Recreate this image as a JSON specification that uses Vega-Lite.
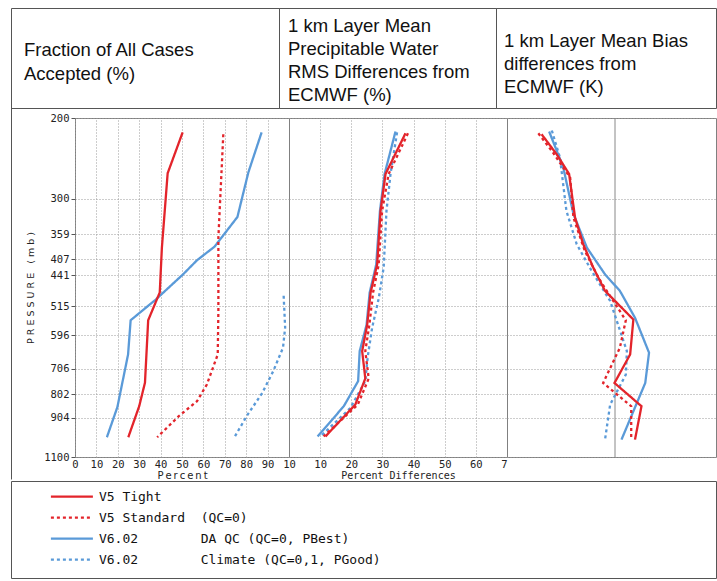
{
  "$schema": "https://vega.github.io/schema/vega-lite/v6.json",
  "padding": {"left": 10, "top": 7, "right": 0, "bottom": 6},
  "background": "white",
  "spacing": -5,
  "config": {
    "view": {"stroke": "#808080", "strokeWidth": 1},
    "axis": {
      "labelFont": "DejaVu Sans Mono", "labelFontSize": 10.5, "labelColor": "#222",
      "gridColor": "#9a9a9a", "gridDash": [1, 2], "gridWidth": 1,
      "domain": false, "ticks": false, "labelFlush": false, "labelOverlap": false, "labelBound": false,
      "labelPadding": 2, "titleFont": "DejaVu Sans Mono", "titleFontSize": 10, "titleFontWeight": "normal", "titleColor": "#222"
    },
    "line": {"strokeWidth": 2.3}
  },
  "datasets": {
    "accepted": [
      {"series": "V6.02 DA QC", "p": 215, "v": 87.2}, {"series": "V6.02 DA QC", "p": 263, "v": 81.0}, {"series": "V6.02 DA QC", "p": 329, "v": 75.9}, {"series": "V6.02 DA QC", "p": 382, "v": 65.2}, {"series": "V6.02 DA QC", "p": 409, "v": 57.0}, {"series": "V6.02 DA QC", "p": 439, "v": 50.5}, {"series": "V6.02 DA QC", "p": 499, "v": 37.6}, {"series": "V6.02 DA QC", "p": 553, "v": 26.0}, {"series": "V6.02 DA QC", "p": 657, "v": 24.8}, {"series": "V6.02 DA QC", "p": 856, "v": 19.8}, {"series": "V6.02 DA QC", "p": 996, "v": 14.9},
      {"series": "V6.02 Climate", "p": 489, "v": 97.5}, {"series": "V6.02 Climate", "p": 574, "v": 98.2}, {"series": "V6.02 Climate", "p": 635, "v": 97.2}, {"series": "V6.02 Climate", "p": 715, "v": 92.6}, {"series": "V6.02 Climate", "p": 797, "v": 87.5}, {"series": "V6.02 Climate", "p": 896, "v": 80.2}, {"series": "V6.02 Climate", "p": 996, "v": 74.5},
      {"series": "V5 Tight", "p": 215, "v": 50.3}, {"series": "V5 Tight", "p": 264, "v": 43.3}, {"series": "V5 Tight", "p": 384, "v": 40.6}, {"series": "V5 Tight", "p": 481, "v": 39.6}, {"series": "V5 Tight", "p": 553, "v": 34.2}, {"series": "V5 Tight", "p": 757, "v": 32.7}, {"series": "V5 Tight", "p": 852, "v": 30.0}, {"series": "V5 Tight", "p": 996, "v": 24.9},
      {"series": "V5 Standard", "p": 217, "v": 69.3}, {"series": "V5 Standard", "p": 365, "v": 67.0}, {"series": "V5 Standard", "p": 528, "v": 67.0}, {"series": "V5 Standard", "p": 657, "v": 66.7}, {"series": "V5 Standard", "p": 764, "v": 61.6}, {"series": "V5 Standard", "p": 831, "v": 57.0}, {"series": "V5 Standard", "p": 896, "v": 48.5}, {"series": "V5 Standard", "p": 996, "v": 38.4}
    ],
    "rms": [
      {"series": "V6.02 DA QC", "p": 214, "v": 34.2}, {"series": "V6.02 DA QC", "p": 265, "v": 30.7}, {"series": "V6.02 DA QC", "p": 319, "v": 29.2}, {"series": "V6.02 DA QC", "p": 418, "v": 28.0}, {"series": "V6.02 DA QC", "p": 481, "v": 25.9}, {"series": "V6.02 DA QC", "p": 566, "v": 24.9}, {"series": "V6.02 DA QC", "p": 646, "v": 22.7}, {"series": "V6.02 DA QC", "p": 751, "v": 22.2}, {"series": "V6.02 DA QC", "p": 852, "v": 17.6}, {"series": "V6.02 DA QC", "p": 992, "v": 9.2},
      {"series": "V6.02 Climate", "p": 215, "v": 34.7}, {"series": "V6.02 Climate", "p": 265, "v": 32.6}, {"series": "V6.02 Climate", "p": 319, "v": 31.3}, {"series": "V6.02 Climate", "p": 424, "v": 30.4}, {"series": "V6.02 Climate", "p": 496, "v": 28.8}, {"series": "V6.02 Climate", "p": 574, "v": 26.7}, {"series": "V6.02 Climate", "p": 663, "v": 25.3}, {"series": "V6.02 Climate", "p": 751, "v": 24.5}, {"series": "V6.02 Climate", "p": 860, "v": 19.7}, {"series": "V6.02 Climate", "p": 992, "v": 10.1},
      {"series": "V5 Tight", "p": 216, "v": 37.4}, {"series": "V5 Tight", "p": 265, "v": 31.0}, {"series": "V5 Tight", "p": 319, "v": 29.4}, {"series": "V5 Tight", "p": 418, "v": 28.3}, {"series": "V5 Tight", "p": 481, "v": 26.2}, {"series": "V5 Tight", "p": 566, "v": 25.1}, {"series": "V5 Tight", "p": 646, "v": 23.5}, {"series": "V5 Tight", "p": 741, "v": 24.5}, {"series": "V5 Tight", "p": 845, "v": 21.3}, {"series": "V5 Tight", "p": 992, "v": 11.7},
      {"series": "V5 Standard", "p": 216, "v": 38.2}, {"series": "V5 Standard", "p": 265, "v": 32.0}, {"series": "V5 Standard", "p": 319, "v": 29.9}, {"series": "V5 Standard", "p": 418, "v": 28.8}, {"series": "V5 Standard", "p": 481, "v": 27.0}, {"series": "V5 Standard", "p": 566, "v": 25.8}, {"series": "V5 Standard", "p": 646, "v": 24.5}, {"series": "V5 Standard", "p": 741, "v": 25.6}, {"series": "V5 Standard", "p": 845, "v": 22.1}, {"series": "V5 Standard", "p": 992, "v": 11.1}
    ],
    "bias": [
      {"series": "V6.02 DA QC", "p": 214, "v": -12.2}, {"series": "V6.02 DA QC", "p": 256, "v": -9.6}, {"series": "V6.02 DA QC", "p": 324, "v": -7.7}, {"series": "V6.02 DA QC", "p": 384, "v": -5.2}, {"series": "V6.02 DA QC", "p": 439, "v": -1.85}, {"series": "V6.02 DA QC", "p": 477, "v": 0.9}, {"series": "V6.02 DA QC", "p": 546, "v": 3.7}, {"series": "V6.02 DA QC", "p": 651, "v": 6.3}, {"series": "V6.02 DA QC", "p": 758, "v": 5.6}, {"series": "V6.02 DA QC", "p": 1008, "v": 1.2},
      {"series": "V6.02 Climate", "p": 213, "v": -11.7}, {"series": "V6.02 Climate", "p": 244, "v": -10.2}, {"series": "V6.02 Climate", "p": 319, "v": -9.0}, {"series": "V6.02 Climate", "p": 377, "v": -7.1}, {"series": "V6.02 Climate", "p": 432, "v": -4.3}, {"series": "V6.02 Climate", "p": 502, "v": -0.9}, {"series": "V6.02 Climate", "p": 646, "v": 2.2}, {"series": "V6.02 Climate", "p": 727, "v": 2.0}, {"series": "V6.02 Climate", "p": 845, "v": -0.9}, {"series": "V6.02 Climate", "p": 1008, "v": -1.85},
      {"series": "V5 Tight", "p": 217, "v": -13.6}, {"series": "V5 Tight", "p": 240, "v": -10.8}, {"series": "V5 Tight", "p": 265, "v": -8.5}, {"series": "V5 Tight", "p": 330, "v": -7.4}, {"series": "V5 Tight", "p": 377, "v": -5.9}, {"series": "V5 Tight", "p": 425, "v": -4.0}, {"series": "V5 Tight", "p": 477, "v": -1.85}, {"series": "V5 Tight", "p": 551, "v": 3.4}, {"series": "V5 Tight", "p": 657, "v": 2.8}, {"series": "V5 Tight", "p": 758, "v": -0.1}, {"series": "V5 Tight", "p": 852, "v": 4.9}, {"series": "V5 Tight", "p": 1008, "v": 3.7},
      {"series": "V5 Standard", "p": 216, "v": -14.2}, {"series": "V5 Standard", "p": 236, "v": -11.7}, {"series": "V5 Standard", "p": 270, "v": -8.3}, {"series": "V5 Standard", "p": 330, "v": -7.7}, {"series": "V5 Standard", "p": 390, "v": -5.6}, {"series": "V5 Standard", "p": 446, "v": -3.1}, {"series": "V5 Standard", "p": 490, "v": -0.9}, {"series": "V5 Standard", "p": 553, "v": 2.0}, {"series": "V5 Standard", "p": 635, "v": 0.9}, {"series": "V5 Standard", "p": 758, "v": -2.2}, {"series": "V5 Standard", "p": 852, "v": 3.0}, {"series": "V5 Standard", "p": 1008, "v": 3.0}
    ]
  },
  "vconcat": [
    {
      "hconcat": [
        {"width": 268, "height": 100, "view": {"stroke": "#555"}, "data": {"values": [{}]},
         "mark": {"type": "text", "text": ["Fraction of All Cases", "Accepted (%)"], "align": "left", "baseline": "alphabetic", "x": 13, "y": 47.5, "lineHeight": 24, "font": "Liberation Sans", "fontSize": 18.5, "color": "#111"}},
        {"width": 217, "height": 100, "view": {"stroke": "#555"}, "data": {"values": [{}]},
         "mark": {"type": "text", "text": ["1 km Layer Mean", "Precipitable Water", "RMS Differences from", "ECMWF (%)"], "align": "left", "baseline": "alphabetic", "x": 9, "y": 23.5, "lineHeight": 23, "font": "Liberation Sans", "fontSize": 18.5, "color": "#111"}},
        {"width": 220, "height": 100, "view": {"stroke": "#555"}, "data": {"values": [{}]},
         "mark": {"type": "text", "text": ["1 km Layer Mean Bias", "differences from", "ECMWF (K)"], "align": "left", "baseline": "alphabetic", "x": 8, "y": 38.5, "lineHeight": 23, "font": "Liberation Sans", "fontSize": 18.5, "color": "#111"}}
      ],
      "spacing": 0, "bounds": "flush"
    },
    {
      "hconcat": [
        {
          "width": 64, "height": 361, "view": {"stroke": null}, "data": {"values": [{}]},
          "mark": {"type": "point", "opacity": 0},
          "encoding": {
            "x": {"datum": 1, "type": "quantitative", "scale": {"domain": [0, 1], "nice": false},
                  "axis": {"orient": "bottom", "values": [0], "labels": false, "ticks": false, "domain": false, "title": null, "grid": true, "gridDash": [], "gridColor": "#555", "minExtent": 0, "maxExtent": 0}},
            "y": {"datum": 1, "type": "quantitative", "scale": {"domain": [0, 1], "nice": false},
                  "axis": {"orient": "left", "position": -14, "labels": false, "ticks": false, "grid": false, "title": null, "domain": true, "domainColor": "#555", "minExtent": 0, "maxExtent": 0}}
          }
        },
        {
          "width": 214, "height": 339,
          "data": {"name": "accepted"},
          "mark": {"type": "line", "clip": true},
          "encoding": {
            "x": {"field": "v", "type": "quantitative", "scale": {"domain": [0, 100], "nice": false, "zero": false},
                  "axis": {"orient": "bottom", "values": [0, 10, 20, 30, 40, 50, 60, 70, 80, 90, 100], "labelExpr": "datum.value == 100 ? '10' : datum.label", "title": "P\u2009e\u2009r\u2009c\u2009e\u2009n\u2009t", "titleFont": "DejaVu Sans", "titleFontSize": 10, "titlePadding": 1, "grid": true}},
            "y": {"field": "p", "type": "quantitative", "scale": {"type": "log", "domain": [200, 1100], "nice": false, "reverse": true},
                  "axis": {"orient": "left", "values": [200, 300, 359, 407, 441, 515, 596, 706, 802, 904, 1100], "format": "d", "ticks": true, "tickSize": 4, "tickColor": "#555", "title": "P\u00a0R\u00a0E\u00a0S\u00a0S\u00a0U\u00a0R\u00a0E\u00a0\u00a0\u00a0(\u00a0m\u00a0b\u00a0)", "titleFont": "DejaVu Sans", "titleFontSize": 9.5, "titlePadding": 8, "grid": true}},
            "color": {"field": "series", "type": "nominal",
                      "scale": {"domain": ["V5 Tight", "V5 Standard", "V6.02 DA QC", "V6.02 Climate"], "range": ["#e3242b", "#e3242b", "#5a9ad8", "#5a9ad8"]},
                      "legend": {"orient": "none", "legendX": 48.9, "legendY": 476.7, "title": null, "symbolType": "M-2,0H2", "symbolSize": 441, "symbolStrokeWidth": 3.5, "labelFont": "DejaVu Sans Mono", "labelFontSize": 13, "labelColor": "#111", "labelOffset": 15, "rowPadding": 2, "padding": 0, "labelLimit": 600,
                                 "labelExpr": "datum.label == 'V5 Standard' ? 'V5 Standard\u00a0\u00a0(QC=0)' : datum.label == 'V6.02 DA QC' ? 'V6.02\u00a0\u00a0\u00a0\u00a0\u00a0\u00a0\u00a0\u00a0DA QC (QC=0, PBest)' : datum.label == 'V6.02 Climate' ? 'V6.02\u00a0\u00a0\u00a0\u00a0\u00a0\u00a0\u00a0\u00a0Climate (QC=0,1, PGood)' : datum.label"}},
            "strokeDash": {"field": "series", "type": "nominal",
                           "scale": {"domain": ["V5 Tight", "V5 Standard", "V6.02 DA QC", "V6.02 Climate"], "range": [[1, 0], [3, 3], [1, 0], [3, 3]]}},
            "order": {"field": "p", "type": "quantitative"}
          }
        },
        {
          "width": 218, "height": 339,
          "data": {"name": "rms"},
          "mark": {"type": "line", "clip": true},
          "encoding": {
            "x": {"field": "v", "type": "quantitative", "scale": {"domain": [0, 70], "nice": false, "zero": false},
                  "axis": {"values": [10, 20, 30, 40, 50, 60, 70], "labelExpr": "datum.value == 70 ? '7' : datum.label", "labelAlign": {"condition": {"test": "datum.value == 70", "value": "right"}, "value": "center"}, "title": "Percent Differences", "titlePadding": 1, "grid": true}},
            "y": {"field": "p", "type": "quantitative", "scale": {"type": "log", "domain": [200, 1100], "nice": false, "reverse": true},
                  "axis": {"values": [200, 300, 359, 407, 441, 515, 596, 706, 802, 904, 1100], "labels": false, "title": null, "grid": true}},
            "color": {"field": "series", "type": "nominal",
                      "scale": {"domain": ["V5 Tight", "V5 Standard", "V6.02 DA QC", "V6.02 Climate"], "range": ["#e3242b", "#e3242b", "#5a9ad8", "#5a9ad8"]}},
            "strokeDash": {"field": "series", "type": "nominal",
                           "scale": {"domain": ["V5 Tight", "V5 Standard", "V6.02 DA QC", "V6.02 Climate"], "range": [[1, 0], [3, 3], [1, 0], [3, 3]]}},
            "order": {"field": "p", "type": "quantitative"}
          }
        },
        {
          "width": 209, "height": 339,
          "data": {"name": "bias"},
          "layer": [
            {
              "data": {"values": [{}]},
              "mark": {"type": "rule", "color": "#888", "strokeWidth": 1},
              "encoding": {"x": {"datum": 0, "type": "quantitative", "axis": null}}
            },
            {
              "mark": {"type": "line", "clip": true},
              "encoding": {
                "x": {"field": "v", "type": "quantitative", "scale": {"domain": [-20, 18.7], "nice": false, "zero": false},
                      "axis": {"values": [-20, -15, -10, -5, 0, 5, 10, 15], "labelExpr": "datum.value == -20 ? '20' : datum.label", "labelAlign": {"condition": {"test": "datum.value == -20", "value": "left"}, "value": "center"}, "title": "Percent Differences", "titlePadding": 1, "grid": true}},
                "y": {"field": "p", "type": "quantitative", "scale": {"type": "log", "domain": [200, 1100], "nice": false, "reverse": true},
                      "axis": {"values": [200, 300, 359, 407, 441, 515, 596, 706, 802, 904, 1100], "labels": false, "title": null, "grid": true}},
                "color": {"field": "series", "type": "nominal",
                          "scale": {"domain": ["V5 Tight", "V5 Standard", "V6.02 DA QC", "V6.02 Climate"], "range": ["#e3242b", "#e3242b", "#5a9ad8", "#5a9ad8"]}},
                "strokeDash": {"field": "series", "type": "nominal",
                               "scale": {"domain": ["V5 Tight", "V5 Standard", "V6.02 DA QC", "V6.02 Climate"], "range": [[1, 0], [3, 3], [1, 0], [3, 3]]}},
                "order": {"field": "p", "type": "quantitative"}
              }
            }
          ]
        }
      ],
      "spacing": 0, "bounds": "flush"
    },
    {
      "width": 705, "height": 97, "view": {"stroke": "#555"}, "data": {"values": [{}]},
      "mark": {"type": "text", "text": ""}
    }
  ]
}
